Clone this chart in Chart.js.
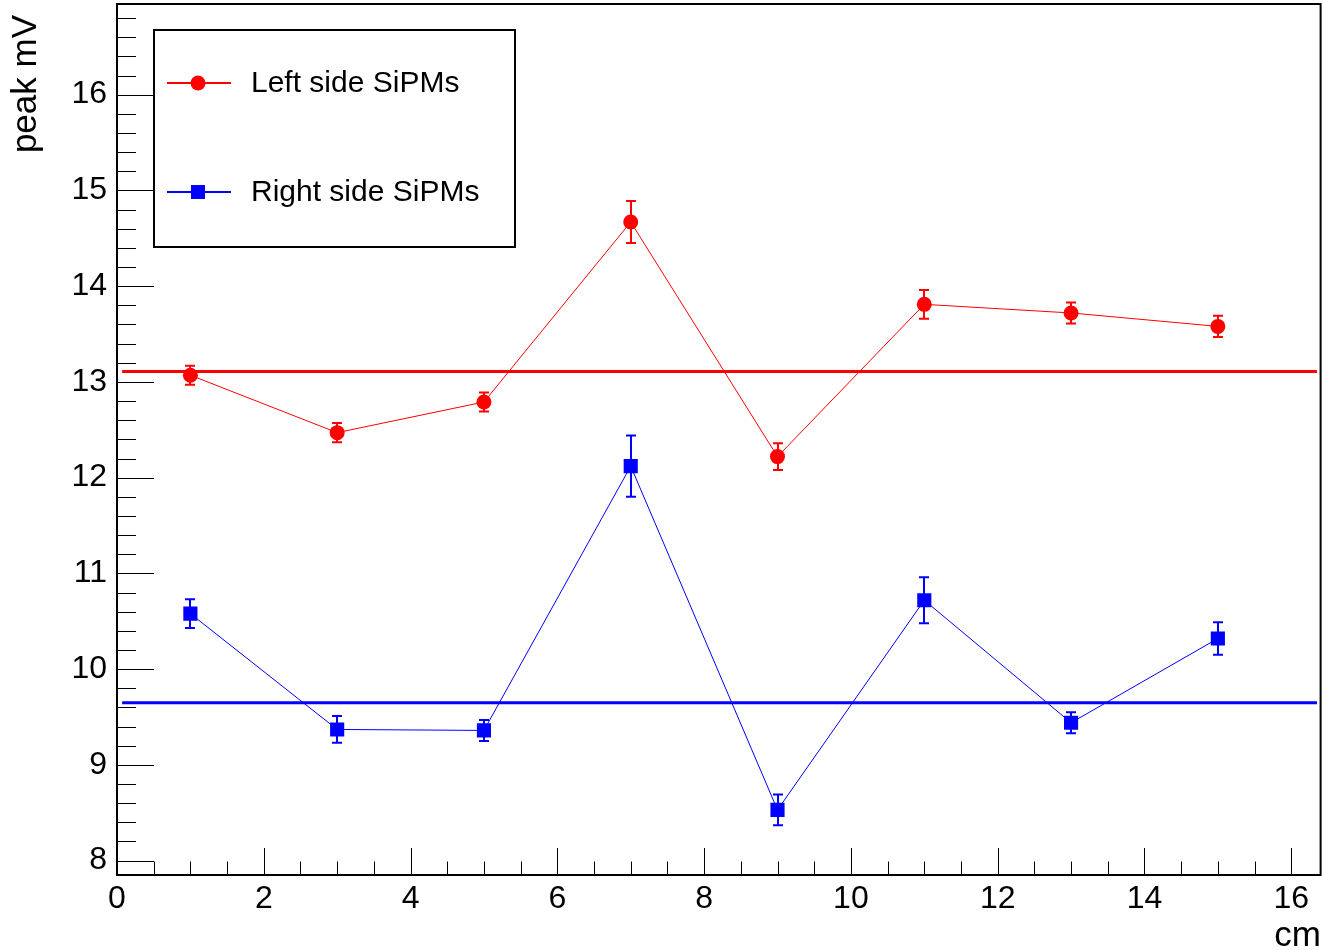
<!DOCTYPE html>
<html>
<head>
<meta charset="utf-8">
<title>peak mV vs position</title>
<script src="https://cdn.jsdelivr.net/npm/chart.js@4.4.1/dist/chart.umd.min.js"></script>
<style>
  html, body { margin: 0; padding: 0; background: #fff; }
  #c { display: block; }
</style>
</head>
<body>
<canvas id="c" width="1323" height="950"></canvas>
<script>
// Scan positions along the bar (cm)
const positions = [1, 3, 5, 7, 9, 11, 13, 15];

// Mean pulse peak and its uncertainty, left-side SiPMs (mV)
const leftPeak = [13.07, 12.47, 12.79, 14.67, 12.22, 13.81, 13.72, 13.58];
const leftErr  = [0.10, 0.10, 0.10, 0.22, 0.14, 0.15, 0.11, 0.11];

// Mean pulse peak and its uncertainty, right-side SiPMs (mV)
const rightPeak = [10.58, 9.37, 9.36, 12.12, 8.53, 10.72, 9.44, 10.32];
const rightErr  = [0.15, 0.14, 0.11, 0.32, 0.16, 0.24, 0.11, 0.17];

// Constant fits to each side
const leftFit = 13.11;
const rightFit = 9.65;
const fitRange = [0.07, 16.35];

// Axis ranges and tick labels
const xRange = [0, 16.4];
const yRange = [7.85, 16.947];
const xTickLabels = ['0', '2', '4', '6', '8', '10', '12', '14', '16'];
const yTickLabels = ['8', '9', '10', '11', '12', '13', '14', '15', '16'];

const FONT = '"Liberation Sans", Arial, Helvetica, sans-serif';

const pts = (xs, ys) => xs.map((x, i) => ({ x: x, y: ys[i] }));

// Keep the plot frame fixed: no extra room reserved for overhanging labels
function fixAxis(size, prop) {
  return function (s) {
    s[prop] = size;
    s.paddingTop = 0; s.paddingBottom = 0;
    s.paddingLeft = 0; s.paddingRight = 0;
  };
}

// Error bars with short caps, drawn under the markers
const errorBars = {
  id: 'errorBars',
  beforeDatasetsDraw(chart) {
    const ctx = chart.ctx;
    const xs = chart.scales.x, ys = chart.scales.y;
    const sets = [
      { v: leftPeak, e: leftErr, c: '#ff0000' },
      { v: rightPeak, e: rightErr, c: '#0000ff' }
    ];
    ctx.save();
    ctx.lineWidth = 2;
    sets.forEach(s => {
      ctx.strokeStyle = s.c;
      positions.forEach((p, i) => {
        const px = Math.round(xs.getPixelForValue(p));
        const yt = ys.getPixelForValue(s.v[i] + s.e[i]);
        const yb = ys.getPixelForValue(s.v[i] - s.e[i]);
        ctx.beginPath();
        ctx.moveTo(px, yt); ctx.lineTo(px, yb);
        ctx.moveTo(px - 5, yt); ctx.lineTo(px + 5, yt);
        ctx.moveTo(px - 5, yb); ctx.lineTo(px + 5, yb);
        ctx.stroke();
      });
    });
    ctx.restore();
  }
};

// Frame with inward major/minor ticks on both axes
const frameTicks = {
  id: 'frameTicks',
  beforeDatasetsDraw(chart) {
    const ctx = chart.ctx;
    const a = chart.chartArea;
    const xs = chart.scales.x, ys = chart.scales.y;
    ctx.save();
    ctx.strokeStyle = '#000';
    ctx.lineWidth = 1;
    ctx.beginPath();
    // x ticks every 0.5, major every 2
    for (let k = 0; k * 0.5 <= xRange[1] + 1e-9; k++) {
      const v = k * 0.5;
      const px = Math.round(xs.getPixelForValue(v)) + 0.5;
      const len = (k % 4 === 0) ? 27 : 13.5;
      ctx.moveTo(px, a.bottom);
      ctx.lineTo(px, a.bottom - len);
    }
    // y ticks every 0.2, major every 1
    for (let k = 40; k * 0.2 <= yRange[1] + 1e-9; k++) {
      const v = k * 0.2;
      const py = Math.round(ys.getPixelForValue(v)) + 0.5;
      const len = (k % 5 === 0) ? 37 : 19;
      ctx.moveTo(a.left, py);
      ctx.lineTo(a.left + len, py);
    }
    ctx.stroke();
    ctx.lineWidth = 2;
    ctx.strokeRect(a.left, a.top, a.right - a.left, a.bottom - a.top);
    ctx.restore();
  }
};

// Axis titles and the boxed legend
const annotations = {
  id: 'annotations',
  afterDraw(chart) {
    const ctx = chart.ctx;
    ctx.save();
    ctx.fillStyle = '#000';
    ctx.font = '35px ' + FONT;
    ctx.textAlign = 'right';
    ctx.textBaseline = 'alphabetic';
    ctx.fillText('cm', 1321, 946);
    ctx.save();
    ctx.translate(36, 15);
    ctx.rotate(-Math.PI / 2);
    ctx.fillText('peak mV', 0, 0);
    ctx.restore();

    // legend box
    const bx = 154, by = 30, bw = 361, bh = 217;
    ctx.fillStyle = '#fff';
    ctx.fillRect(bx, by, bw, bh);
    ctx.strokeStyle = '#000';
    ctx.lineWidth = 2;
    ctx.strokeRect(bx, by, bw, bh);

    const entries = [
      { ds: chart.data.datasets[0], y: 83, shape: 'circle' },
      { ds: chart.data.datasets[1], y: 192, shape: 'rect' }
    ];
    ctx.font = '30px ' + FONT;
    ctx.textAlign = 'left';
    ctx.textBaseline = 'middle';
    entries.forEach(e => {
      const col = e.ds.borderColor;
      ctx.strokeStyle = col;
      ctx.lineWidth = 2;
      ctx.beginPath();
      ctx.moveTo(167, e.y); ctx.lineTo(231, e.y);
      ctx.stroke();
      ctx.fillStyle = col;
      ctx.beginPath();
      if (e.shape === 'circle') {
        ctx.arc(198, e.y, 7.5, 0, Math.PI * 2);
      } else {
        ctx.rect(191, e.y - 7, 14, 14);
      }
      ctx.fill();
      ctx.fillStyle = '#000';
      ctx.fillText(e.ds.label, 251, e.y + 1);
    });
    ctx.restore();
  }
};

new Chart(document.getElementById('c'), {
  type: 'scatter',
  data: {
    datasets: [
      {
        label: 'Left side SiPMs',
        data: pts(positions, leftPeak),
        showLine: true,
        borderColor: '#ff0000',
        backgroundColor: '#ff0000',
        borderWidth: 1,
        pointStyle: 'circle',
        pointRadius: 7.5,
        pointBorderWidth: 0,
        order: 1
      },
      {
        label: 'Right side SiPMs',
        data: pts(positions, rightPeak),
        showLine: true,
        borderColor: '#0000ff',
        backgroundColor: '#0000ff',
        borderWidth: 1,
        pointStyle: 'rect',
        pointRadius: 10,
        pointBorderWidth: 0,
        order: 1
      },
      {
        label: 'Left fit',
        data: pts(fitRange, [leftFit, leftFit]),
        showLine: true,
        borderColor: '#ff0000',
        borderWidth: 3,
        pointRadius: 0,
        order: 2
      },
      {
        label: 'Right fit',
        data: pts(fitRange, [rightFit, rightFit]),
        showLine: true,
        borderColor: '#0000ff',
        borderWidth: 3,
        pointRadius: 0,
        order: 2
      }
    ]
  },
  options: {
    responsive: false,
    animation: false,
    devicePixelRatio: 1,
    layout: { autoPadding: false, padding: { top: 4, right: 2.4, left: 0, bottom: 0 } },
    plugins: {
      legend: { display: false },
      tooltip: { enabled: false }
    },
    scales: {
      x: {
        type: 'linear',
        min: xRange[0],
        max: xRange[1],
        grid: { display: false, drawTicks: false },
        border: { display: false },
        ticks: {
          stepSize: 2,
          includeBounds: false,
          autoSkip: false,
          maxRotation: 0,
          padding: 5,
          color: '#000',
          font: { family: FONT, size: 32 },
          callback: (v, i) => xTickLabels[i]
        },
        afterFit: fixAxis(75, 'height')
      },
      y: {
        type: 'linear',
        min: yRange[0],
        max: yRange[1],
        grid: { display: false, drawTicks: false },
        border: { display: false },
        ticks: {
          stepSize: 1,
          includeBounds: false,
          autoSkip: false,
          padding: 10,
          color: '#000',
          font: { family: FONT, size: 32 },
          callback: (v, i) => yTickLabels[i]
        },
        afterFit: fixAxis(117, 'width')
      }
    }
  },
  plugins: [frameTicks, errorBars, annotations]
});
</script>
</body>
</html>
